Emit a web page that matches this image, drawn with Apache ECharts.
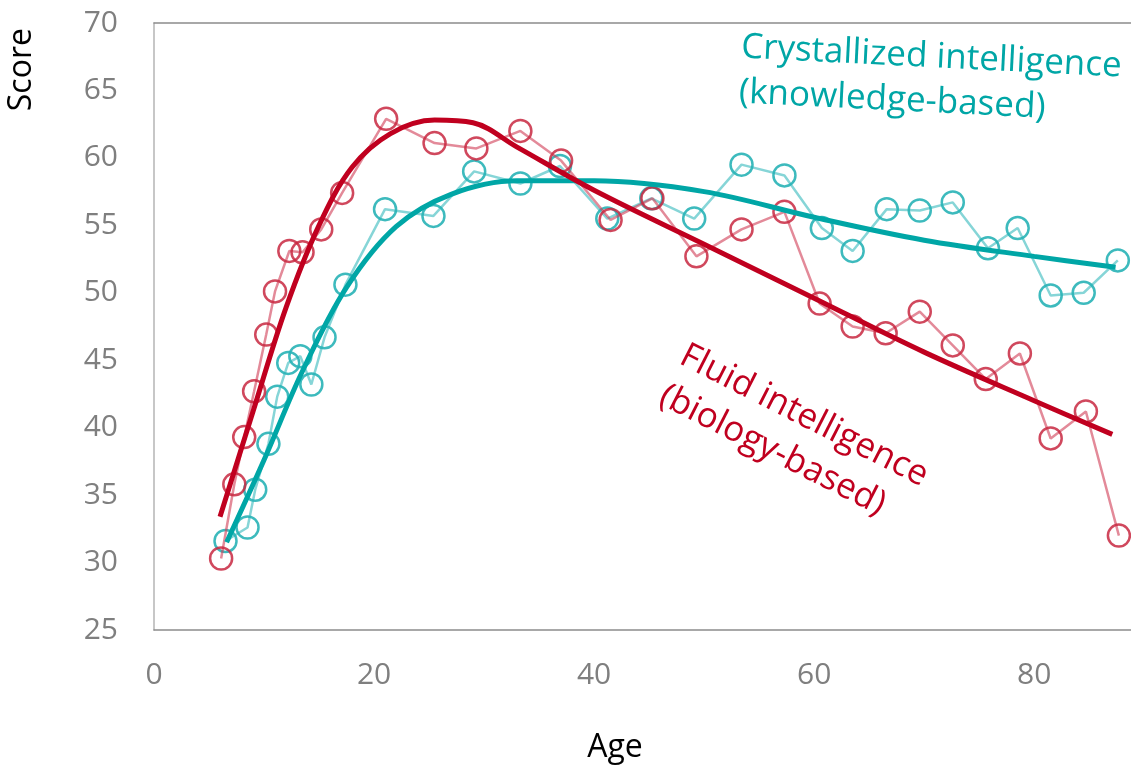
<!DOCTYPE html>
<html>
<head>
<meta charset="utf-8">
<script src="https://cdn.jsdelivr.net/npm/echarts@6/dist/echarts.min.js"></script>
<style>
  html, body { margin: 0; padding: 0; background: #fff; }
  #chart-container { width: 1131px; height: 769px; }
</style>
</head>
<body>
<div id="chart-container"></div>
<script>
// observed scores by age
var fluidAge = [6.1, 7.3, 8.2, 9.1, 10.2, 11.0, 12.3, 13.5, 15.2, 17.1, 21.1, 25.5, 29.3, 33.3, 37.0,
  41.5, 45.3, 49.3, 53.4, 57.3, 60.5, 63.5, 66.5, 69.6, 72.6, 75.6, 78.7, 81.5, 84.7, 87.7];
var fluidScore = [30.3, 35.8, 39.3, 42.7, 46.9, 50.1, 53.1, 53.0, 54.7, 57.4, 62.9, 61.1, 60.7, 62.0, 59.8,
  55.4, 57.0, 52.7, 54.7, 56.0, 49.2, 47.5, 47.0, 48.6, 46.1, 43.6, 45.5, 39.2, 41.2, 32.0];

var crystAge = [6.5, 8.5, 9.2, 10.4, 11.2, 12.2, 13.3, 14.3, 15.5, 17.4, 21.0, 25.4, 29.1, 33.3, 36.9,
  41.2, 45.2, 49.1, 53.4, 57.3, 60.7, 63.5, 66.6, 69.6, 72.6, 75.8, 78.5, 81.5, 84.5, 87.6];
var crystScore = [31.6, 32.6, 35.4, 38.8, 42.3, 44.8, 45.3, 43.2, 46.7, 50.6, 56.2, 55.7, 59.0, 58.1, 59.4,
  55.5, 57.0, 55.5, 59.5, 58.7, 54.8, 53.1, 56.2, 56.1, 56.7, 53.3, 54.8, 49.8, 50.0, 52.4];

// fitted trend curves
var fluidTrendAge = [6.0, 9.0, 12.0, 15.0, 18.0, 21.5, 25.5, 29.0, 33.0, 40.0, 50.0, 60.0, 70.0, 80.0, 87.1];
var fluidTrendScore = [33.4, 41.2, 48.9, 55.0, 59.3, 61.8, 62.8, 62.6, 60.8, 57.6, 53.6, 49.6, 45.6, 42.0, 39.5];

var crystTrendAge = [6.6, 10.0, 13.5, 17.5, 22.0, 27.0, 33.0, 40.0, 50.0, 60.0, 70.0, 80.0, 87.4];
var crystTrendScore = [31.5, 37.6, 44.2, 50.4, 54.9, 57.3, 58.3, 58.3, 57.5, 55.6, 53.9, 52.7, 51.9];

var xTicks = [0, 20, 40, 60, 80];
var yTicks = [25, 30, 35, 40, 45, 50, 55, 60, 65, 70];

function pairs(xs, ys) {
  return xs.map(function (x, i) { return [x, ys[i]]; });
}

var FONT = '"Open Sans", "Noto Sans", sans-serif';
var RED = '#c0001f';
var TEAL = '#00a6a6';

var dom = document.getElementById('chart-container');
var myChart = echarts.init(dom, null, { renderer: 'canvas' });

var option = {
  animation: false,
  backgroundColor: '#fff',
  grid: { left: 154, top: 23, right: 0, bottom: 139, show: false },
  xAxis: [{
    type: 'value', min: 0, max: 88.8, interval: 20,
    axisLine: { show: true, onZero: false, lineStyle: { color: '#8c8c8c', width: 1.5 } },
    axisTick: { show: false },
    splitLine: { show: false },
    axisLabel: {
      color: '#7f7f7f', fontSize: 30, fontFamily: FONT, margin: 30, showMaxLabel: false,
      formatter: function (v) { return xTicks.indexOf(v) >= 0 ? String(v) : ''; }
    }
  }, {
    type: 'value', position: 'top', min: 0, max: 88.8,
    axisLine: { show: true, onZero: false, lineStyle: { color: '#8c8c8c', width: 1.5 } },
    axisTick: { show: false }, axisLabel: { show: false }, splitLine: { show: false }
  }],
  yAxis: {
    type: 'value', min: 25, max: 70, interval: 5,
    axisLine: { show: true, onZero: false, lineStyle: { color: '#b5b5b5', width: 1.5 } },
    axisTick: { show: false },
    splitLine: { show: false },
    axisLabel: {
      color: '#7f7f7f', fontSize: 30, fontFamily: FONT, margin: 36,
      formatter: function (v) { return yTicks.indexOf(v) >= 0 ? String(v) : ''; }
    }
  },
  graphic: [
    { type: 'text', left: 6, top: 28, rotation: Math.PI / 2,
      style: { text: 'Score', font: '32px ' + FONT, fill: '#000' } },
    { type: 'text', x: 615, y: 748,
      style: { text: 'Age', font: '32px ' + FONT, fill: '#000', align: 'center', verticalAlign: 'middle' } },
    { type: 'text', x: 740, y: 70, rotation: -0.05, originX: 0, originY: 0,
      style: { text: 'Crystallized intelligence\n(knowledge-based)', font: '35px ' + FONT,
        fill: TEAL, align: 'left', verticalAlign: 'middle', lineHeight: 45 } },
    { type: 'text', x: 672, y: 374, rotation: -0.47, originX: 0, originY: 0,
      style: { text: 'Fluid intelligence\n(biology-based)', font: '35px ' + FONT,
        fill: RED, align: 'left', verticalAlign: 'middle', lineHeight: 45 } }
  ],
  series: [
    {
      name: 'Crystallized', type: 'line', data: pairs(crystAge, crystScore),
      symbol: 'circle', symbolSize: 22,
      lineStyle: { color: 'rgba(53,185,188,0.6)', width: 2.5 },
      itemStyle: { color: 'rgba(0,0,0,0)', borderColor: 'rgba(40,178,182,0.9)', borderWidth: 2.5 },
      z: 2
    },
    {
      name: 'Fluid', type: 'line', data: pairs(fluidAge, fluidScore),
      symbol: 'circle', symbolSize: 22,
      lineStyle: { color: 'rgba(208,60,85,0.6)', width: 2.5 },
      itemStyle: { color: 'rgba(0,0,0,0)', borderColor: 'rgba(200,40,65,0.85)', borderWidth: 2.5 },
      z: 3
    },
    {
      name: 'Crystallized trend', type: 'line', data: pairs(crystTrendAge, crystTrendScore),
      smooth: 0.35, showSymbol: false,
      lineStyle: { color: TEAL, width: 5 },
      z: 4
    },
    {
      name: 'Fluid trend', type: 'line', data: pairs(fluidTrendAge, fluidTrendScore),
      smooth: 0.35, showSymbol: false,
      lineStyle: { color: RED, width: 5 },
      z: 5
    }
  ]
};

myChart.setOption(option);
</script>
</body>
</html>
